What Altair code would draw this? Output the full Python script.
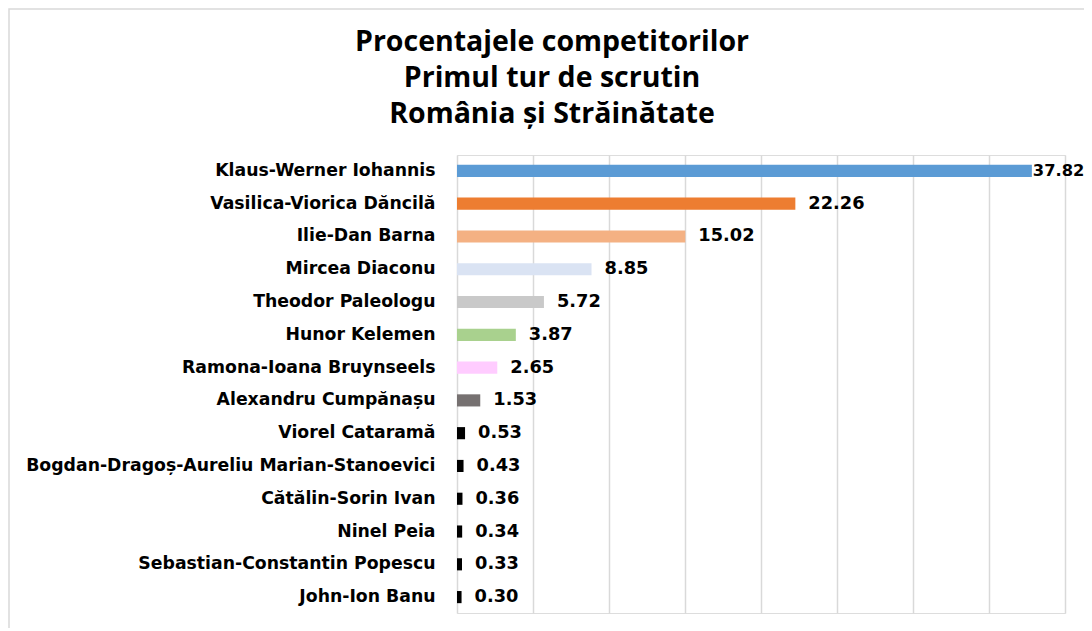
import altair as alt
import pandas as pd

candidates = [
    "Klaus-Werner Iohannis",
    "Vasilica-Viorica Dăncilă",
    "Ilie-Dan Barna",
    "Mircea Diaconu",
    "Theodor Paleologu",
    "Hunor Kelemen",
    "Ramona-Ioana Bruynseels",
    "Alexandru Cumpănașu",
    "Viorel Cataramă",
    "Bogdan-Dragoș-Aureliu Marian-Stanoevici",
    "Cătălin-Sorin Ivan",
    "Ninel Peia",
    "Sebastian-Constantin Popescu",
    "John-Ion Banu",
]
percent = [37.82, 22.26, 15.02, 8.85, 5.72, 3.87, 2.65, 1.53, 0.53, 0.43, 0.36, 0.34, 0.33, 0.30]
colors = ["#5B9BD5", "#ED7D31", "#F4B183", "#DAE3F3", "#C9C9C9", "#A9D18E", "#FFCCFF",
          "#767171", "#000000", "#000000", "#000000", "#000000", "#000000", "#000000"]

df = pd.DataFrame({"name": candidates, "value": percent})
df["label"] = df["value"].map(lambda v: f"{v:.2f}")

W, H = 608, 458
PL, PT, PR, PB = 449, 147, 19, 15

y_enc = alt.Y("name:N", sort=candidates, title=None,
              scale=alt.Scale(paddingInner=0.63, paddingOuter=0.3),
              axis=alt.Axis(labelFont="DejaVu Sans", labelFontWeight="bold", labelFontSize=17.3,
                            labelColor="#000000", labelPadding=22, ticks=False, domain=False,
                            grid=False, labelLimit=440))
x_enc = alt.X("value:Q", title=None,
              scale=alt.Scale(domain=[0, 40], nice=False),
              axis=alt.Axis(values=[0, 5, 10, 15, 20, 25, 30, 35, 40], labels=False, ticks=False,
                            domain=False, grid=True, gridColor="#d9d9d9", gridWidth=1.5))

base = alt.Chart(df)

bars = base.mark_bar().encode(
    y=y_enc, x=x_enc,
    color=alt.Color("name:N", scale=alt.Scale(domain=candidates, range=colors), legend=None),
)

label_style = dict(align="left", baseline="middle", font="DejaVu Sans", fontWeight="bold",
                   color="#000000")

labels_main = base.transform_filter("datum.value < 30").mark_text(
    dx=13, fontSize=17.8, **label_style).encode(
    y=alt.Y("name:N", sort=candidates), x="value:Q", text="label:N")

labels_top = base.transform_filter("datum.value >= 30").mark_text(
    dx=1, fontSize=16.3, **label_style).encode(
    y=alt.Y("name:N", sort=candidates), x="value:Q", text="label:N")

border = alt.Chart(pd.DataFrame({"a": [0]})).mark_rect(
    fill=None, stroke="#d9d9d9", strokeWidth=1.5
).encode(x=alt.value(-PL + 1), x2=alt.value(W + PR + 20), y=alt.value(-PT + 1), y2=alt.value(H + PB + 20))

chart = alt.layer(border, bars, labels_main, labels_top).properties(
    width=W, height=H,
    padding={"left": PL, "top": PT, "right": PR, "bottom": PB},
    autosize=alt.AutoSizeParams(type="none"),
    title=alt.TitleParams(
        text=["Procentajele competitorilor", "Primul tur de scrutin", "România și Străinătate"],
        font="Open Sans", fontSize=28.5, fontWeight="bold", color="#000000",
        anchor="middle", dx=-209, offset=-120, lineHeight=36,
    ),
).configure_view(stroke=None).configure(background="white")

chart.save("out.html", embed_options={"renderer": "svg", "actions": False})
